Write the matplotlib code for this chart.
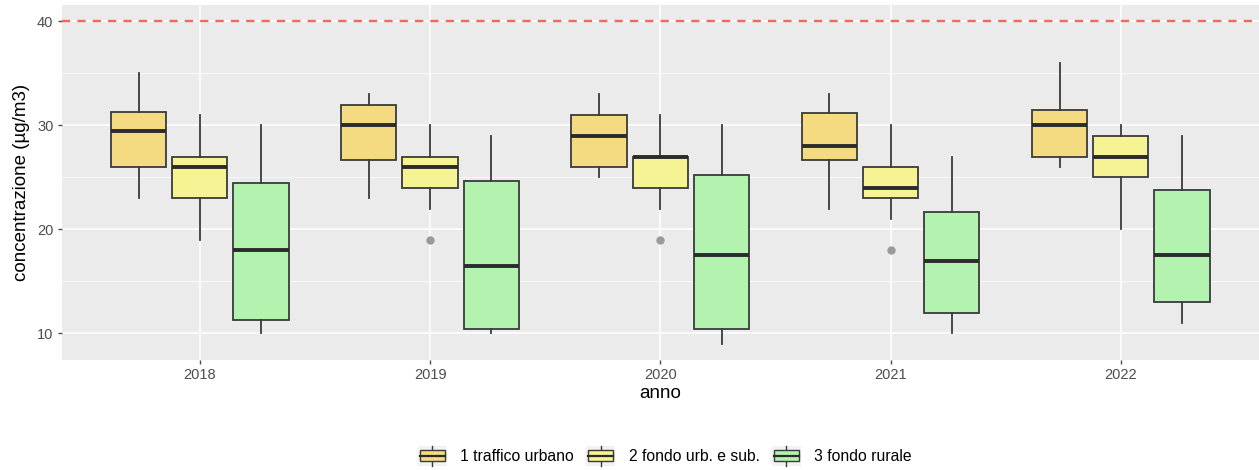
import matplotlib
matplotlib.use("Agg")
import matplotlib.pyplot as plt
from matplotlib.legend_handler import HandlerBase
from matplotlib.patches import Rectangle
from matplotlib.lines import Line2D

plt.rcParams['font.family'] = ['Liberation Sans', 'DejaVu Sans']

years = ['2018', '2019', '2020', '2021', '2022']
groups = ['1 traffico urbano', '2 fondo urb. e sub.', '3 fondo rurale']
colors = ['#F4DB82', '#F6F394', '#B4F2B0']

# per group: [whislo, q1, median, q3, whishi] for each year
traffico = [[23, 26, 29.5, 31.3, 35],
            [23, 26.7, 30, 32, 33],
            [25, 26, 29, 31, 33],
            [22, 26.7, 28, 31.2, 33],
            [26, 27, 30, 31.5, 36]]
fondo_urb = [[19, 23, 26, 27, 31],
             [22, 24, 26, 27, 30],
             [22, 24, 27, 27, 31],
             [21, 23, 24, 26, 30],
             [20, 25, 27, 29, 30]]
rurale = [[10, 11.25, 18, 24.5, 30],
          [10, 10.45, 16.5, 24.7, 29],
          [9, 10.45, 17.5, 25.2, 30],
          [10, 12, 17, 21.7, 27],
          [11, 13, 17.5, 23.75, 29]]
outliers = {1: [[], [19], [19], [18], []]}
limite = 40

series = [traffico, fondo_urb, rurale]

fig = plt.figure(figsize=(12.59, 4.70), dpi=100)
ax = fig.add_axes([0.049, 0.234, 0.951, 0.755])
ax.set_facecolor('#EBEBEB')

offsets = [-0.266, 0.0, 0.266]
for g, data in enumerate(series):
    stats = []
    for i, (lo, q1, med, q3, hi) in enumerate(data):
        fl = outliers.get(g, [[]] * 5)[i]
        stats.append(dict(whislo=lo, q1=q1, med=med, q3=q3, whishi=hi, fliers=fl))
    pos = [i + 1 + offsets[g] for i in range(len(years))]
    bp = ax.bxp(stats, positions=pos, widths=0.24, patch_artist=True,
                showcaps=False, manage_ticks=False,
                boxprops=dict(edgecolor='#3a3a3a', linewidth=1.3),
                whiskerprops=dict(color='#3a3a3a', linewidth=1.3),
                medianprops=dict(color='#2b2b2b', linewidth=2.8),
                flierprops=dict(marker='o', markerfacecolor='#9a9a9a',
                                markeredgecolor='#9a9a9a', markersize=5))
    for b in bp['boxes']:
        b.set_facecolor(colors[g])
        b.set_zorder(3)
    for k in ['whiskers', 'medians', 'fliers']:
        for a in bp[k]:
            a.set_zorder(3)

ax.axhline(limite, color='#F0695C', linestyle=(0, (3.5, 3)), linewidth=1.7, zorder=2)

ax.set_xlim(0.4, 5.6)
ax.set_ylim(7.45, 41.55)
ax.set_xticks(range(1, 6))
ax.set_xticklabels(years)
ax.set_yticks([10, 20, 30, 40])
ax.set_yticks([15, 25, 35], minor=True)
ax.grid(which='major', color='white', linewidth=1.1, zorder=0)
ax.grid(which='minor', axis='y', color='white', linewidth=0.5, zorder=0)
ax.set_axisbelow(True)
for s in ax.spines.values():
    s.set_visible(False)
ax.tick_params(which='major', colors='#4D4D4D', labelsize=10.5, length=3, width=1, pad=3)
ax.tick_params(which='minor', length=0)
ax.set_xlabel('anno', fontsize=13.5, labelpad=2)
ax.set_ylabel('concentrazione (µg/m3)', fontsize=13.5, labelpad=5)


class BoxHandler(HandlerBase):
    def __init__(self, color):
        super().__init__()
        self.color = color

    def create_artists(self, legend, orig, xd, yd, w, h, fs, trans):
        x0, y0 = -xd, -yd
        cx = x0 + w / 2
        bw = w * 0.86
        bh = h * 0.55
        by = y0 + (h - bh) / 2
        bg = Rectangle((x0, y0), w, h, facecolor='#F2F2F2', edgecolor='none', transform=trans)
        wl = Line2D([cx, cx], [y0, y0 + h], color='#3a3a3a', lw=1, transform=trans)
        box = Rectangle((cx - bw / 2, by), bw, bh, facecolor=self.color,
                        edgecolor='#3a3a3a', lw=1, transform=trans)
        md = Line2D([cx - bw / 2, cx + bw / 2], [y0 + h / 2] * 2, color='#2b2b2b', lw=1.6, transform=trans)
        return [bg, wl, box, md]


handles = [Rectangle((0, 0), 1, 1) for _ in groups]
fig.legend(handles, groups, loc='center', bbox_to_anchor=(0.528, 0.030), ncol=3,
           frameon=False, fontsize=11.3, handlelength=1.85, handleheight=1.6,
           columnspacing=0.78, handletextpad=0.85, borderpad=0,
           handler_map={h: BoxHandler(c) for h, c in zip(handles, colors)})

fig.savefig('out.png', dpi=100)
